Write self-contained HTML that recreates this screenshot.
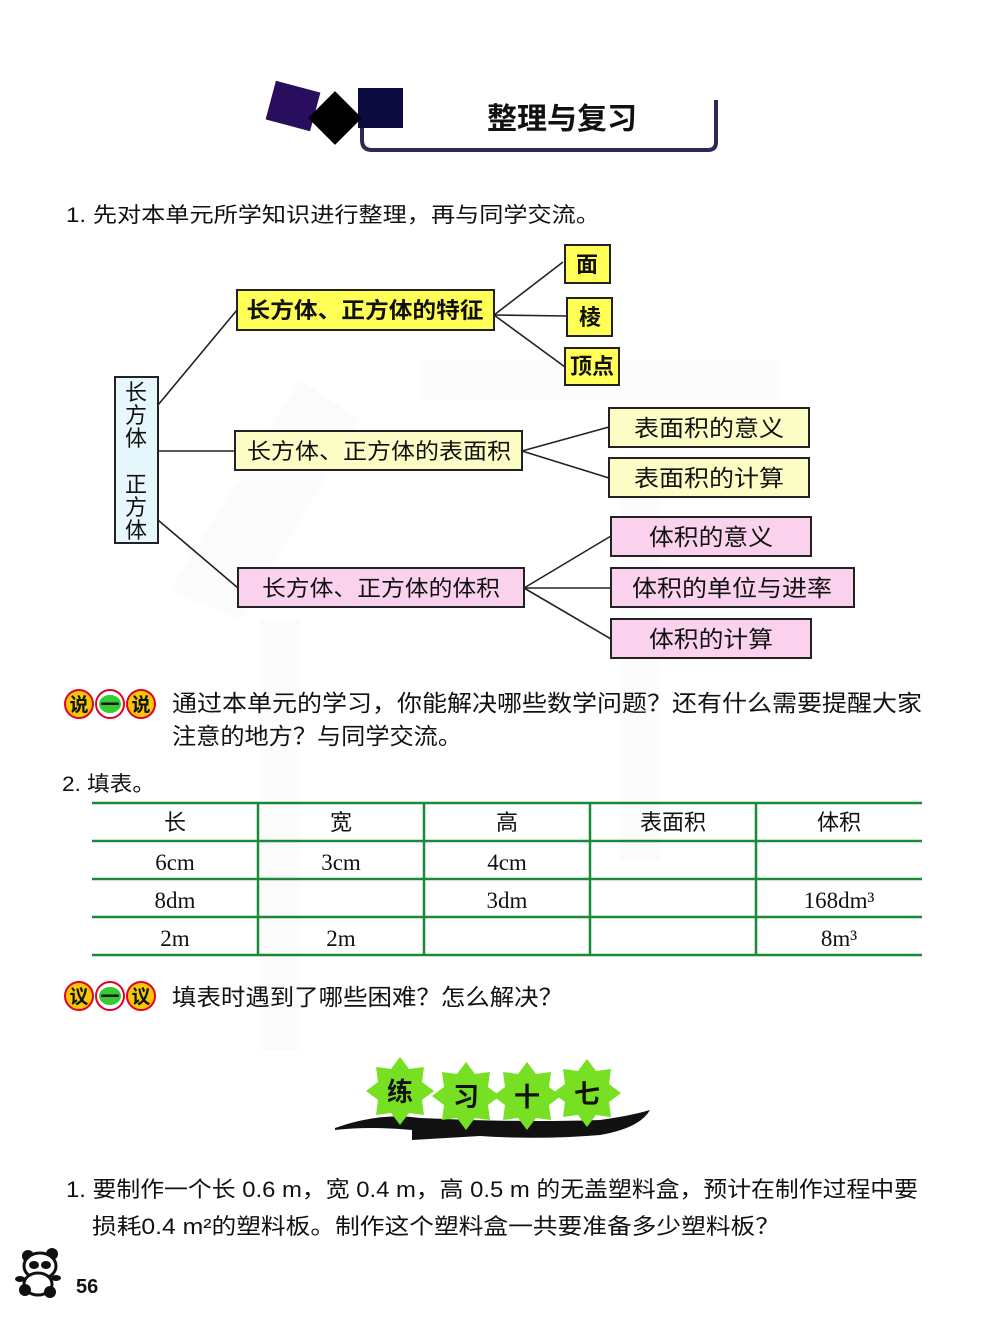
<!DOCTYPE html>
<html><head><meta charset="utf-8"><style>
html,body{margin:0;padding:0;background:#fff}
svg{display:block}
text{font-family:"Liberation Sans","Noto Sans CJK SC",sans-serif;fill:#111}
.b{font-weight:bold}
.s text, text.s{font-family:"Liberation Serif","Noto Serif CJK SC",serif}
</style></head><body>
<svg width="1000" height="1336" viewBox="0 0 1000 1336" xmlns="http://www.w3.org/2000/svg">
<rect width="1000" height="1336" fill="#fff"/>
<g fill="#fbfbfb">
<polygon points="170,590 300,380 360,420 240,620"/>
<rect x="260" y="620" width="40" height="430"/>
<rect x="620" y="480" width="40" height="380"/>
<rect x="420" y="360" width="360" height="40"/>
</g>
<!-- title -->
<rect x="270" y="86" width="46" height="40" fill="#2a0e5e" transform="rotate(15 293 106)"/>
<rect x="358" y="88" width="45" height="40" fill="#0c0c40"/>
<rect x="316" y="99" width="38" height="38" fill="#000" transform="rotate(45 335 118)"/>
<path d="M362,128 L362,140 Q362,150 372,150 L708,150 Q716,150 716,142 L716,100" fill="none" stroke="#2a2a55" stroke-width="4"/>
<text x="562" y="129" font-size="30" class="b" text-anchor="middle">整理与复习</text>
<text x="66" y="222" font-size="21" textLength="534" lengthAdjust="spacingAndGlyphs">1. 先对本单元所学知识进行整理，再与同学交流。</text>
<!-- lines -->
<g stroke="#222" stroke-width="1.6" fill="none">
<line x1="158" y1="405" x2="237" y2="310"/>
<line x1="158" y1="451" x2="235" y2="451"/>
<line x1="158" y1="520" x2="238" y2="588"/>
<line x1="494" y1="315" x2="563" y2="262"/>
<line x1="494" y1="315" x2="567" y2="316"/>
<line x1="494" y1="315" x2="565" y2="367"/>
<line x1="522" y1="451" x2="609" y2="427"/>
<line x1="522" y1="451" x2="609" y2="478"/>
<line x1="524" y1="588" x2="611" y2="536"/>
<line x1="524" y1="588" x2="611" y2="588"/>
<line x1="524" y1="588" x2="611" y2="639"/>
</g>
<g stroke="#222" stroke-width="2">
<rect x="115" y="377" width="43" height="166" fill="#e6f8fc"/>
<rect x="237" y="290" width="257" height="40" fill="#ffff55"/>
<rect x="565" y="245" width="45" height="38" fill="#ffff55"/>
<rect x="567" y="298" width="45" height="38" fill="#ffff55"/>
<rect x="565" y="348" width="54" height="37" fill="#ffff55"/>
<rect x="235" y="431" width="287" height="39" fill="#fbfdc4"/>
<rect x="609" y="408" width="200" height="39" fill="#fbfdc4"/>
<rect x="609" y="458" width="200" height="39" fill="#fbfdc4"/>
<rect x="238" y="568" width="286" height="39" fill="#fad2ee"/>
<rect x="611" y="517" width="200" height="39" fill="#fad2ee"/>
<rect x="611" y="568" width="243" height="39" fill="#fad2ee"/>
<rect x="611" y="619" width="200" height="39" fill="#fad2ee"/>
</g>
<g font-size="22" text-anchor="middle">
<text x="136" y="400">长</text><text x="136" y="423">方</text><text x="136" y="446">体</text>
<text x="136" y="492">正</text><text x="136" y="515">方</text><text x="136" y="538">体</text>
<text x="365" y="318" class="b" textLength="237" lengthAdjust="spacingAndGlyphs">长方体、正方体的特征</text>
<text x="587" y="272" class="b">面</text>
<text x="590" y="325" class="b">棱</text>
<text x="592" y="374" class="b">顶点</text>
<text x="379" y="459" textLength="264" lengthAdjust="spacingAndGlyphs">长方体、正方体的表面积</text>
<text x="709" y="436" font-size="23" textLength="150" lengthAdjust="spacingAndGlyphs">表面积的意义</text>
<text x="709" y="486" font-size="23" textLength="150" lengthAdjust="spacingAndGlyphs">表面积的计算</text>
<text x="381" y="596" textLength="238" lengthAdjust="spacingAndGlyphs">长方体、正方体的体积</text>
<text x="711" y="545" font-size="23" textLength="124" lengthAdjust="spacingAndGlyphs">体积的意义</text>
<text x="732" y="596" font-size="23" textLength="200" lengthAdjust="spacingAndGlyphs">体积的单位与进率</text>
<text x="711" y="647" font-size="23" textLength="124" lengthAdjust="spacingAndGlyphs">体积的计算</text>
</g>
<!-- 说一说 -->
<g stroke="#e0002a" stroke-width="2">
<circle cx="79" cy="704" r="14" fill="#f8c800"/>
<circle cx="110" cy="704" r="14" fill="#fff"/>
<ellipse cx="110" cy="704" rx="11" ry="9" fill="#33cc33" stroke="none"/>
<circle cx="141" cy="704" r="14" fill="#f8c800"/>
</g>
<g font-size="19" class="b" text-anchor="middle"><text x="79" y="711">说</text><text x="110" y="711">一</text><text x="141" y="711">说</text></g>
<text x="172" y="711" font-size="23" textLength="750" lengthAdjust="spacingAndGlyphs">通过本单元的学习，你能解决哪些数学问题？还有什么需要提醒大家</text>
<text x="172" y="744" font-size="23" textLength="290" lengthAdjust="spacingAndGlyphs">注意的地方？与同学交流。</text>
<text x="62" y="791" font-size="21" textLength="93" lengthAdjust="spacingAndGlyphs">2. 填表。</text>
<!-- table -->
<g stroke="#1a8a3a" stroke-width="2.5">
<line x1="92" y1="803" x2="922" y2="803"/>
<line x1="92" y1="841" x2="922" y2="841"/>
<line x1="92" y1="879" x2="922" y2="879"/>
<line x1="92" y1="917" x2="922" y2="917"/>
<line x1="92" y1="955" x2="922" y2="955"/>
<line x1="258" y1="803" x2="258" y2="955"/>
<line x1="424" y1="803" x2="424" y2="955"/>
<line x1="590" y1="803" x2="590" y2="955"/>
<line x1="756" y1="803" x2="756" y2="955"/>
</g>
<g font-size="22" text-anchor="middle">
<text x="175" y="830">长</text><text x="341" y="830">宽</text><text x="507" y="830">高</text><text x="673" y="830">表面积</text><text x="839" y="830">体积</text>
</g>
<g font-size="23" text-anchor="middle" class="s">
<text x="175" y="870">6cm</text><text x="341" y="870">3cm</text><text x="507" y="870">4cm</text>
<text x="175" y="908">8dm</text><text x="507" y="908">3dm</text><text x="839" y="908">168dm³</text>
<text x="175" y="946">2m</text><text x="341" y="946">2m</text><text x="839" y="946">8m³</text>
</g>
<!-- 议一议 -->
<g stroke="#e0002a" stroke-width="2">
<circle cx="79" cy="996" r="14" fill="#f8c800"/>
<circle cx="110" cy="996" r="14" fill="#fff"/>
<ellipse cx="110" cy="996" rx="11" ry="9" fill="#33cc33" stroke="none"/>
<circle cx="141" cy="996" r="14" fill="#f8c800"/>
</g>
<g font-size="19" class="b" text-anchor="middle"><text x="79" y="1003">议</text><text x="110" y="1003">一</text><text x="141" y="1003">议</text></g>
<text x="172" y="1005" font-size="23" textLength="391" lengthAdjust="spacingAndGlyphs">填表时遇到了哪些困难？怎么解决？</text>
<!-- 练习十七 -->
<path d="M335,1128 Q380,1112 420,1118 L470,1120 Q540,1122 600,1120 Q630,1116 650,1110 Q640,1128 600,1135 Q540,1140 480,1136 L412,1140 L412,1130 Q370,1126 335,1130 Z" fill="#111"/>
<g fill="#77e022">
<polygon points="0,-34 9,-22 24,-24 22,-9 34,0 22,9 24,24 9,22 0,34 -9,22 -24,24 -22,9 -34,0 -22,-9 -24,-24 -9,-22" transform="translate(400,1091)"/>
<polygon points="0,-34 9,-22 24,-24 22,-9 34,0 22,9 24,24 9,22 0,34 -9,22 -24,24 -22,9 -34,0 -22,-9 -24,-24 -9,-22" transform="translate(466,1096)"/>
<polygon points="0,-34 9,-22 24,-24 22,-9 34,0 22,9 24,24 9,22 0,34 -9,22 -24,24 -22,9 -34,0 -22,-9 -24,-24 -9,-22" transform="translate(527,1096)"/>
<polygon points="0,-34 9,-22 24,-24 22,-9 34,0 22,9 24,24 9,22 0,34 -9,22 -24,24 -22,9 -34,0 -22,-9 -24,-24 -9,-22" transform="translate(587,1093)"/>
</g>
<g font-size="26" class="b" text-anchor="middle">
<text x="400" y="1101">练</text><text x="466" y="1106">习</text><text x="527" y="1106">十</text><text x="587" y="1103">七</text>
</g>
<text x="66" y="1197" font-size="22" textLength="852" lengthAdjust="spacingAndGlyphs">1. 要制作一个长 0.6 m，宽 0.4 m，高 0.5 m 的无盖塑料盒，预计在制作过程中要</text>
<text x="92" y="1234" font-size="22" textLength="688" lengthAdjust="spacingAndGlyphs">损耗0.4 m²的塑料板。制作这个塑料盒一共要准备多少塑料板？</text>
<!-- panda -->
<g fill="#111">
<circle cx="28" cy="1256" r="6"/><circle cx="52" cy="1254" r="6"/>
<ellipse cx="40" cy="1266" rx="16" ry="13" fill="#fff" stroke="#111" stroke-width="3"/>
<ellipse cx="34" cy="1265" rx="5" ry="4"/><ellipse cx="46" cy="1265" rx="5" ry="4"/>
<ellipse cx="38" cy="1284" rx="14" ry="11" fill="#fff" stroke="#111" stroke-width="3"/>
<circle cx="25" cy="1290" r="6"/><circle cx="50" cy="1292" r="6"/>
<ellipse cx="20" cy="1279" rx="5" ry="3"/><ellipse cx="56" cy="1278" rx="5" ry="3"/>
</g>
<text x="76" y="1293" font-size="20" class="b">56</text>
</svg>
</body></html>
